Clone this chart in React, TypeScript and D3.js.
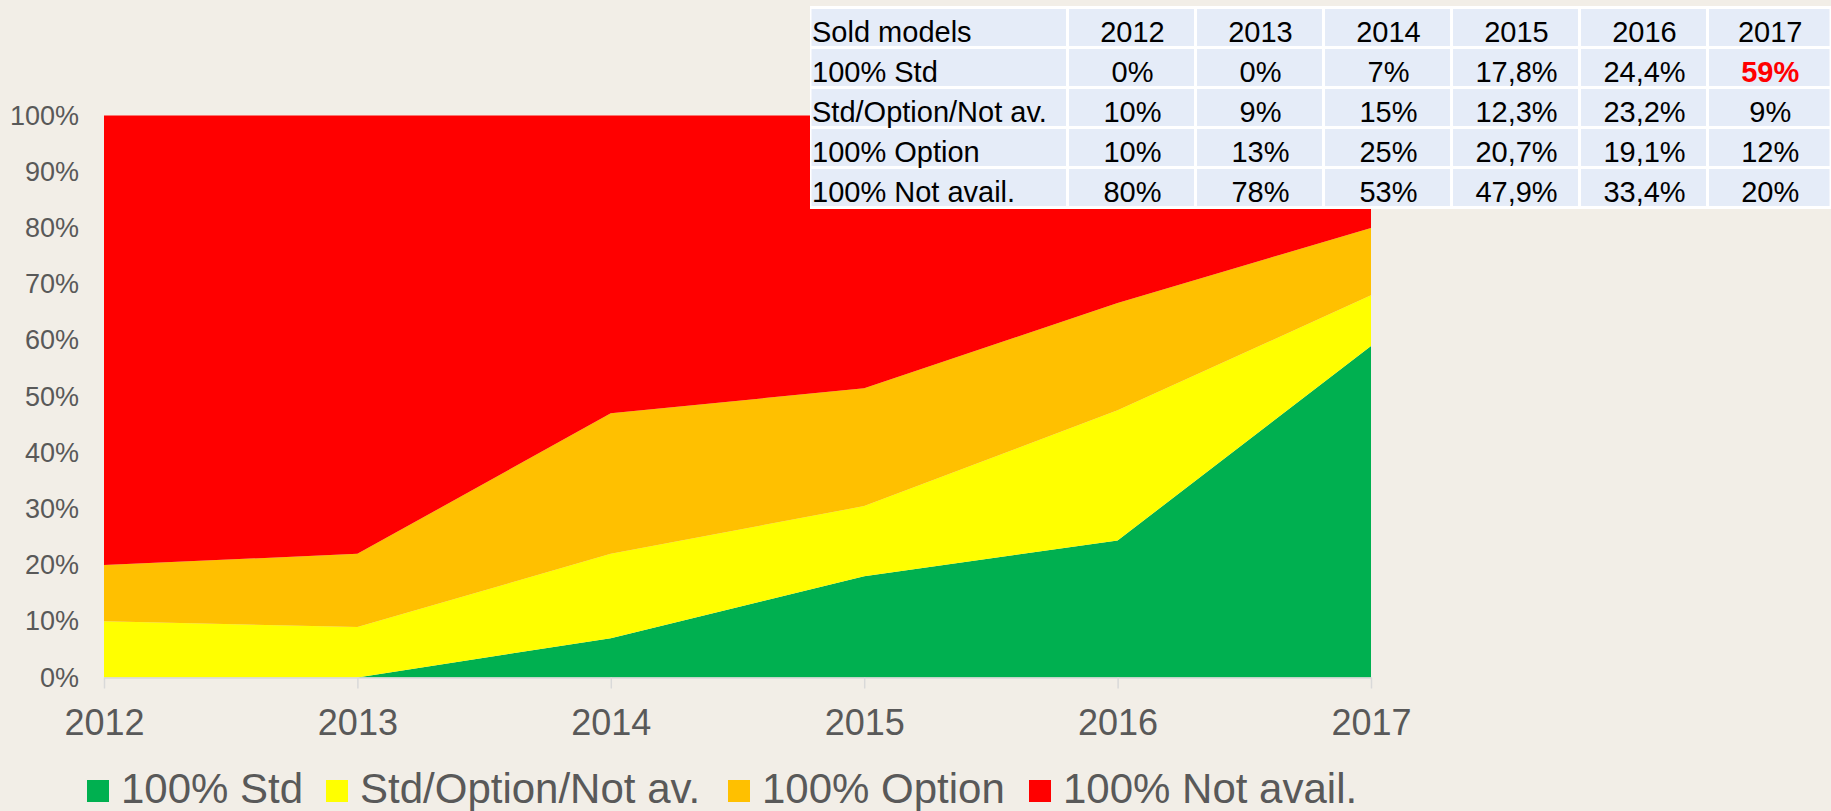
import React, { Component } from "react";
import * as d3 from "d3";

const years = ["2012", "2013", "2014", "2015", "2016", "2017"];
const seriesNames = ["100% Std", "Std/Option/Not av.", "100% Option", "100% Not avail."];
const std = [0, 0, 7, 17.8, 24.4, 59];
const stdOptNotAv = [10, 9, 15, 12.3, 23.2, 9];
const option = [10, 13, 25, 20.7, 19.1, 12];
const notAvail = [80, 78, 53, 47.9, 33.4, 20];
const yTicks = [0, 0.1, 0.2, 0.3, 0.4, 0.5, 0.6, 0.7, 0.8, 0.9, 1];
const tableHeader = "Sold models";

const colors = ["#00B050", "#FFFF00", "#FFC000", "#FF0000"];
const FONT = "'Liberation Sans', Arial, sans-serif";

class App extends Component {
  svgRef: React.RefObject<SVGSVGElement>;

  constructor(props: any) {
    super(props);
    this.svgRef = React.createRef();
  }

  componentDidMount() {
    this.renderChart();
  }

  componentDidUpdate() {
    this.renderChart();
  }

  renderChart() {
    const W = 1831;
    const H = 811;
    const svg = d3.select(this.svgRef.current).attr("width", W).attr("height", H);
    svg.selectAll("*").remove();

    svg.append("rect").attr("width", W).attr("height", H).attr("fill", "#F2EEE7");

    const allSeries = [std, stdOptNotAv, option, notAvail];
    const rows = years.map((y, i) => {
      const r: any = { year: y };
      seriesNames.forEach((k, j) => (r[k] = allSeries[j][i]));
      return r;
    });

    // 100% stacked
    const stack = d3.stack().keys(seriesNames).offset(d3.stackOffsetExpand);
    const stacked = stack(rows);

    const x = d3.scalePoint().domain(years).range([104, 1371]);
    const y = d3.scaleLinear().domain([0, 1]).range([677.5, 115.5]);

    const area = d3
      .area<any>()
      .x((d) => x(d.data.year) as number)
      .y0((d) => y(d[0]))
      .y1((d) => y(d[1]));

    svg
      .append("g")
      .selectAll("path")
      .data(stacked)
      .join("path")
      .attr("d", area)
      .attr("fill", (d, i) => colors[i]);

    // axes
    const yAxis = svg
      .append("g")
      .attr("transform", "translate(104,0)")
      .call(d3.axisLeft(y).tickValues(yTicks).tickFormat(d3.format(".0%")).tickSize(0).tickPadding(25));
    yAxis.select(".domain").remove();
    yAxis
      .selectAll("text")
      .attr("fill", "#595959")
      .style("font-family", FONT)
      .style("font-size", "27px");

    const xAxis = svg
      .append("g")
      .attr("transform", "translate(0,677.5)")
      .call(d3.axisBottom(x).tickSize(11).tickPadding(21).tickSizeOuter(0));
    xAxis.select(".domain").attr("stroke", "#D9D9D9").attr("stroke-width", 1.5);
    xAxis.selectAll("line").attr("stroke", "#D9D9D9").attr("stroke-width", 1.5);
    xAxis
      .selectAll("text")
      .attr("fill", "#595959")
      .style("font-family", FONT)
      .style("font-size", "36px");

    // legend
    const legendX = [87, 326, 728, 1029];
    const legend = svg.append("g").attr("transform", "translate(0,780)");
    seriesNames.forEach((name, i) => {
      const lx = legendX[i];
      legend.append("rect").attr("x", lx).attr("y", 0).attr("width", 22).attr("height", 22).attr("fill", colors[i]);
      legend
        .append("text")
        .attr("x", lx + 34)
        .attr("y", 23)
        .attr("fill", "#595959")
        .style("font-family", FONT)
        .style("font-size", "42px")
        .text(name);
    });

    // table
    const colEdges = [810, 1067.5, 1195.5, 1323.5, 1451.5, 1579.5, 1707.5, 1831];
    const rowEdges = [7.5, 47.5, 87.5, 127.5, 167.5, 207.5];
    const fmt = (v: number) => String(v).replace(".", ",") + "%";
    const tableRows = [
      [tableHeader, ...years],
      ...seriesNames.map((n, j) => [n, ...allSeries[j].map(fmt)]),
    ];

    const table = svg.append("g");
    table
      .append("rect")
      .attr("x", colEdges[0])
      .attr("y", 6)
      .attr("width", colEdges[7] - colEdges[0])
      .attr("height", 203)
      .attr("fill", "#FFFFFF");

    tableRows.forEach((row, ri) => {
      const y0 = rowEdges[ri];
      const y1 = ri + 1 < rowEdges.length ? rowEdges[ri + 1] : y0 + 40;
      row.forEach((cell, ci) => {
        const x0 = colEdges[ci];
        const x1 = colEdges[ci + 1];
        table
          .append("rect")
          .attr("x", x0 + 1.5)
          .attr("y", y0 + 1.5)
          .attr("width", x1 - x0 - 3)
          .attr("height", y1 - y0 - 3)
          .attr("fill", "#E5ECF8");
        const highlight = ri === 1 && ci === 6;
        table
          .append("text")
          .attr("x", ci === 0 ? x0 + 2 : (x0 + x1) / 2 + 1)
          .attr("y", y0 + 34)
          .attr("text-anchor", ci === 0 ? "start" : "middle")
          .attr("fill", highlight ? "#FF0000" : "#000000")
          .style("font-weight", highlight ? "bold" : "normal")
          .style("font-family", FONT)
          .style("font-size", "29px")
          .text(cell);
      });
    });
  }

  render() {
    return (
      <svg
        ref={this.svgRef}
        style={{ position: "absolute", left: 0, top: 0, display: "block" }}
      />
    );
  }
}

export default App;
